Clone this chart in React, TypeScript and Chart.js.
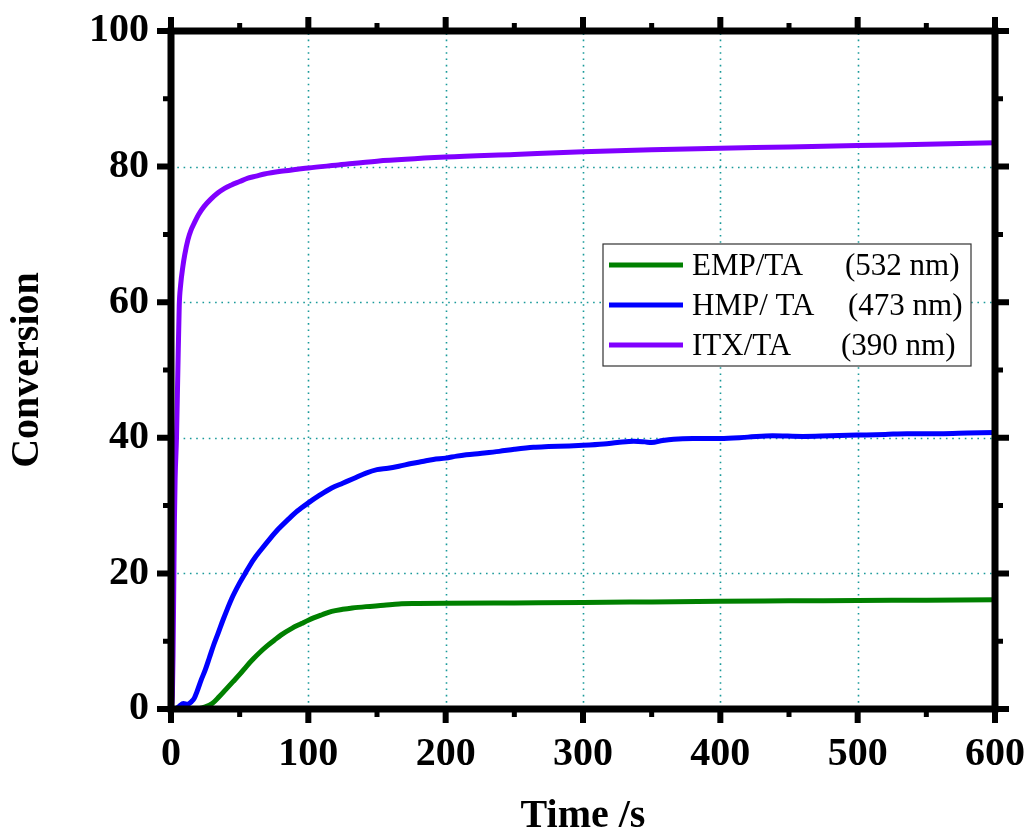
import React, { useEffect, useRef } from "react";
import { Chart, registerables } from "chart.js";

Chart.register(...registerables);

const seriesNames = ["EMP/TA", "HMP/ TA", "ITX/TA"];
const seriesWavelengths = ["(532 nm)", "(473 nm)", "(390 nm)"];
const seriesColors = ["#008000", "#0000ff", "#8000ff"];

const xTicks = [0, 100, 200, 300, 400, 500, 600];
const yTicks = [0, 20, 40, 60, 80, 100];
const xTitle = "Time /s";
const yTitle = "Conversion";

const empTime = [0, 5, 10, 15, 20, 25, 30, 35, 40, 45, 50, 55, 60, 65, 70, 75, 80, 88, 95, 100, 110, 117, 125, 132, 142, 155, 166, 180, 200, 250, 300, 350, 400, 450, 500, 550, 600];
const empConv = [0, 0, 0, 0, 0.05, 0.3, 0.8, 1.8, 2.9, 4.0, 5.1, 6.3, 7.4, 8.4, 9.3, 10.1, 10.9, 11.9, 12.6, 13.1, 13.9, 14.4, 14.7, 14.9, 15.1, 15.3, 15.5, 15.55, 15.6, 15.65, 15.7, 15.8, 15.9, 15.95, 16.0, 16.05, 16.1];

const hmpTime = [0, 3, 6, 9, 12, 15, 17, 19, 22, 25, 28, 31, 34, 38, 44, 50, 54, 60, 66, 72, 78, 85, 92, 100, 108, 117, 125, 133, 142, 150, 158, 166, 175, 183, 191, 200, 208, 215, 225, 239, 250, 264, 275, 290, 300, 315, 325, 337, 345, 350, 358, 366, 380, 400, 420, 438, 460, 480, 500, 520, 536, 560, 580, 600];
const hmpConv = [0, 0, 0.4, 0.8, 0.7, 1.1, 1.6, 2.6, 4.3, 5.8, 7.6, 9.4, 11.0, 13.2, 16.2, 18.6, 20.0, 22.0, 23.6, 25.1, 26.5, 27.9, 29.2, 30.4, 31.5, 32.6, 33.3, 34.0, 34.8, 35.3, 35.5, 35.8, 36.2, 36.5, 36.8, 37.0, 37.3, 37.5, 37.7, 38.0, 38.3, 38.6, 38.7, 38.8, 38.9, 39.1, 39.3, 39.5, 39.4, 39.3, 39.6, 39.8, 39.9, 39.9, 40.1, 40.3, 40.2, 40.3, 40.4, 40.5, 40.6, 40.6, 40.7, 40.8];

const itxTime = [0, 1, 1.5, 2, 2.5, 3, 4, 5, 6, 7, 8.6, 10, 12.3, 14.5, 17, 20, 24, 29, 34, 39, 44, 50, 56, 62, 68, 80, 92, 100, 120, 150, 200, 250, 300, 350, 400, 450, 500, 550, 600];
const itxConv = [0, 2, 8, 18, 28, 34, 40, 50, 59.5, 62.5, 65.2, 67, 69.2, 70.6, 71.7, 72.9, 74.1, 75.2, 76.1, 76.8, 77.3, 77.8, 78.3, 78.6, 78.9, 79.3, 79.6, 79.8, 80.2, 80.8, 81.4, 81.8, 82.2, 82.5, 82.7, 82.9, 83.1, 83.3, 83.5];

const SERIF = '"Liberation Serif", "Times New Roman", Times, serif';

const toPoints = (xs: number[], ys: number[]) => xs.map((x, i) => ({ x, y: ys[i] }));

const framePlugin = {
  id: "frameTicksLegend",
  beforeDatasetsDraw(chart: any) {
    const { ctx, chartArea: a, scales } = chart;
    const xs = scales.x, ys = scales.y;
    ctx.save();
    ctx.strokeStyle = "#1a9a9a";
    ctx.lineWidth = 1.6;
    ctx.setLineDash([1.6, 4.7]);
    xTicks.forEach((v) => {
      if (v === xs.min || v === xs.max) return;
      const px = Math.round(xs.getPixelForValue(v)) + 0.5;
      ctx.beginPath();
      ctx.moveTo(px, a.bottom);
      ctx.lineTo(px, a.top);
      ctx.stroke();
    });
    yTicks.forEach((v) => {
      if (v === ys.min || v === ys.max) return;
      const py = Math.round(ys.getPixelForValue(v)) + 0.5;
      ctx.beginPath();
      ctx.moveTo(a.left, py);
      ctx.lineTo(a.right, py);
      ctx.stroke();
    });
    ctx.restore();
  },
  afterDraw(chart: any) {
    const { ctx, chartArea: a, scales } = chart;
    const xs = scales.x, ys = scales.y;
    ctx.save();
    ctx.setLineDash([]);
    ctx.strokeStyle = "#000";
    ctx.lineCap = "butt";
    const majorLen = 14, minorLen = 8;
    for (let v = xs.min; v <= xs.max; v += 50) {
      const major = v % 100 === 0;
      const len = major ? majorLen : minorLen;
      const px = xs.getPixelForValue(v);
      ctx.lineWidth = major ? 6 : 5;
      ctx.beginPath();
      ctx.moveTo(px, a.bottom);
      ctx.lineTo(px, a.bottom + len);
      ctx.moveTo(px, a.top);
      ctx.lineTo(px, a.top - len);
      ctx.stroke();
    }
    for (let v = ys.min; v <= ys.max; v += 10) {
      const major = v % 20 === 0;
      const len = major ? majorLen : minorLen;
      const py = ys.getPixelForValue(v);
      ctx.lineWidth = major ? 6 : 5;
      ctx.beginPath();
      ctx.moveTo(a.left, py);
      ctx.lineTo(a.left - len, py);
      ctx.moveTo(a.right, py);
      ctx.lineTo(a.right + len, py);
      ctx.stroke();
    }
    ctx.lineWidth = 7;
    ctx.lineJoin = "miter";
    ctx.strokeRect(a.left, a.top, a.right - a.left, a.bottom - a.top);

    // legend
    const bx = a.left + 432, by = a.top + 213, bw = 368, bh = 122;
    ctx.fillStyle = "#fff";
    ctx.fillRect(bx, by, bw, bh);
    ctx.lineWidth = 1.2;
    ctx.strokeStyle = "#333";
    ctx.strokeRect(bx, by, bw, bh);
    const rowY = [by + 21, by + 61, by + 101];
    const wlX = [bx + 242, bx + 245, bx + 238];
    ctx.font = `31px ${SERIF}`;
    ctx.textBaseline = "middle";
    ctx.textAlign = "left";
    chart.data.datasets.forEach((ds: any, i: number) => {
      ctx.strokeStyle = ds.borderColor;
      ctx.lineWidth = 5;
      ctx.beginPath();
      ctx.moveTo(bx + 6, rowY[i]);
      ctx.lineTo(bx + 80, rowY[i]);
      ctx.stroke();
      ctx.fillStyle = "#000";
      ctx.fillText(seriesNames[i], bx + 89, rowY[i] + 2);
      ctx.fillText(seriesWavelengths[i], wlX[i], rowY[i] + 2);
    });
    ctx.restore();
  },
};

export default function App() {
  const ref = useRef<HTMLCanvasElement | null>(null);
  useEffect(() => {
    if (!ref.current) return;
    const data = [toPoints(empTime, empConv), toPoints(hmpTime, hmpConv), toPoints(itxTime, itxConv)];
    const chart = new Chart(ref.current, {
      type: "line",
      data: {
        datasets: data.map((d, i) => ({
          label: seriesNames[i] + " " + seriesWavelengths[i],
          data: d,
          borderColor: seriesColors[i],
          backgroundColor: seriesColors[i],
          borderWidth: 5,
          pointRadius: 0,
          cubicInterpolationMode: "monotone" as const,
          fill: false,
        })),
      },
      options: {
        responsive: false,
        animation: false,
        layout: { padding: { top: 31, right: 32, left: 0, bottom: 0 } },
        plugins: { legend: { display: false }, tooltip: { enabled: false } },
        scales: {
          x: {
            type: "linear",
            min: 0,
            max: 600,
            afterFit: (s: any) => { s.height = 128; },
            afterBuildTicks: (s: any) => { s.ticks = xTicks.map((v) => ({ value: v })); },
            grid: { display: false, drawTicks: true, tickLength: 22 },
            border: { display: false },
            ticks: { color: "#000", padding: 0, font: { family: SERIF, size: 40, weight: "bold" }, maxRotation: 0 },
            title: { display: true, text: xTitle, color: "#000", padding: { top: 0, bottom: 0 }, font: { family: SERIF, size: 40, weight: "bold", lineHeight: 1 } },
          },
          y: {
            type: "linear",
            min: 0,
            max: 100,
            afterFit: (s: any) => { s.width = 171; },
            afterBuildTicks: (s: any) => { s.ticks = yTicks.map((v) => ({ value: v })); },
            grid: { display: false, drawTicks: true, tickLength: 22 },
            border: { display: false },
            ticks: { color: "#000", padding: 0, font: { family: SERIF, size: 40, weight: "bold" } },
            title: { display: true, text: yTitle, color: "#000", padding: { top: 8, bottom: 0 }, font: { family: SERIF, size: 40, weight: "bold", lineHeight: 1 } },
          },
        },
      },
      plugins: [framePlugin],
    });
    return () => chart.destroy();
  }, []);
  return (
    <div style={{ position: "absolute", left: 0, top: 0, width: 1027, height: 837, background: "#fff" }}>
      <canvas ref={ref} width={1027} height={837} />
    </div>
  );
}
